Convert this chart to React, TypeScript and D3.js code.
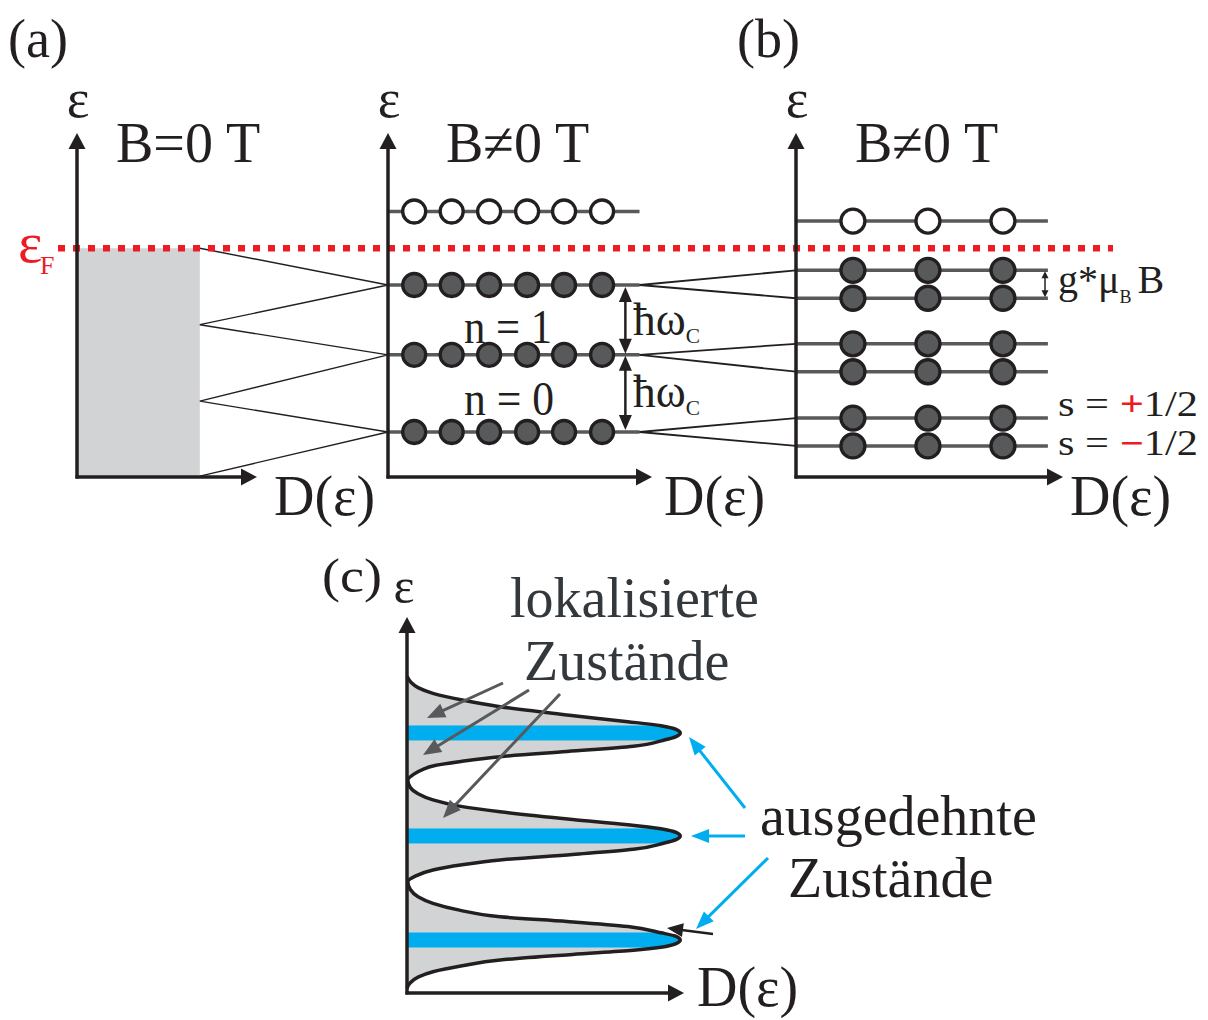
import React from 'react';
import * as d3 from 'd3';

const FONT = '"Liberation Serif", "Times New Roman", Times, serif';
const BLACK = '#231f20';
const DARK = '#58595b';
const RED = '#ed1c24';
const BLUE = '#00aeef';
const GRAY_FILL = '#d1d3d4';

// ---------- Panels (a) and (b): energies in units of ħω_C ----------
const landauLevels = [0, 1.05, 2.0];          // filled Landau levels n = 0, 1, 2
const emptyLevelA = 3.0;                       // empty Landau level (a)
const fermiEnergy = 2.5;
const fanBreaks = [2.5, 1.46, 0.42, -0.6];     // B = 0 band points joined to Landau levels
const filledBandWidth = 0.69;                  // D(ε) of the B = 0 band
const circlesA = [0.1, 0.243, 0.386, 0.531, 0.672, 0.817];
const levelEndA = 0.96;
const spinUp = [2.2, 1.2, 0.19];
const spinDown = [1.82, 0.82, -0.19];
const emptyLevelB = 2.87;
const circlesB = [0.214, 0.496, 0.778];
const levelEndB = 0.947;
const hbarArrowD = 0.906;

// ---------- Panel (c): broadened density of states ----------
const dosEnergy = [
  -0.47, -0.42, -0.36, -0.308, -0.25, -0.194, -0.14, -0.1, -0.07, -0.035, 0,
  0.035, 0.07, 0.13, 0.18, 0.226, 0.29, 0.356, 0.42, 0.49,
  0.566, 0.62, 0.68, 0.73, 0.777, 0.83, 0.88, 0.94, 0.975, 1.01,
  1.045, 1.08, 1.12, 1.17, 1.245, 1.3, 1.36, 1.42, 1.48,
  1.553, 1.61, 1.66, 1.69, 1.735, 1.78, 1.83, 1.88, 1.94, 1.975, 2.01,
  2.045, 2.08, 2.12, 2.184, 2.265, 2.33, 2.395, 2.45, 2.5, 2.56,
];
const dosValue = [
  0.0, 0.01, 0.04, 0.094, 0.2, 0.337, 0.6, 0.82, 0.92, 0.975, 0.99,
  0.975, 0.92, 0.8, 0.58, 0.337, 0.19, 0.094, 0.04, 0.012,
  0.003, 0.03, 0.094, 0.2, 0.337, 0.6, 0.82, 0.93, 0.975, 0.99,
  0.975, 0.92, 0.8, 0.6, 0.337, 0.19, 0.094, 0.04, 0.012,
  0.003, 0.025, 0.06, 0.094, 0.2, 0.337, 0.58, 0.82, 0.93, 0.975, 0.99,
  0.975, 0.92, 0.8, 0.58, 0.337, 0.2, 0.094, 0.04, 0.015, 0.0,
];
const peakEnergies = [0, 1.01, 2.01];

// ---------- scales ----------
const yE = d3.scaleLinear().domain([0, 3]).range([432, 211.5]);
const xA1 = d3.scaleLinear().domain([0, 1]).range([77, 255]);
const xA2 = d3.scaleLinear().domain([0, 1]).range([388, 650]);
const xB = d3.scaleLinear().domain([0, 1]).range([796, 1062]);
const yC = d3.scaleLinear().domain([0, 1]).range([940, 837]);
const xC = d3.scaleLinear().domain([0, 1]).range([407, 683]);

const AX_TOP = 133;
const AX_BOT = 477;

function Arrow({ x1, y1, x2, y2, color = BLACK, w = 3, hl = 16, hw = 16, both = false }: any) {
  const ang = Math.atan2(y2 - y1, x2 - x1);
  const head = (tx: number, ty: number, a: number) => {
    const bx = tx - hl * Math.cos(a);
    const by = ty - hl * Math.sin(a);
    const px = (hw / 2) * Math.sin(a);
    const py = (-hw / 2) * Math.cos(a);
    return `M${tx},${ty}L${bx + px},${by + py}L${bx - px},${by - py}Z`;
  };
  const sx = both ? x1 + hl * 0.8 * Math.cos(ang) : x1;
  const sy = both ? y1 + hl * 0.8 * Math.sin(ang) : y1;
  const ex = x2 - hl * 0.8 * Math.cos(ang);
  const ey = y2 - hl * 0.8 * Math.sin(ang);
  return (
    <g>
      <line x1={sx} y1={sy} x2={ex} y2={ey} stroke={color} strokeWidth={w} />
      <path d={head(x2, y2, ang)} fill={color} />
      {both && <path d={head(x1, y1, ang + Math.PI)} fill={color} />}
    </g>
  );
}

function Axes({ x0, x1, top, bot }: any) {
  return (
    <g>
      <Arrow x1={x0} y1={bot + 1.5} x2={x0} y2={top} w={3.5} hl={16} hw={17} />
      <Arrow x1={x0 - 1.5} y1={bot} x2={x1} y2={bot} w={3.5} hl={16} hw={17} />
    </g>
  );
}

export default function App() {
  const fanPts: [number, number][] = [
    [xA1(filledBandWidth), yE(fanBreaks[0])],
    [xA2(0), yE(landauLevels[2])],
    [xA1(filledBandWidth), yE(fanBreaks[1])],
    [xA2(0), yE(landauLevels[1])],
    [xA1(filledBandWidth), yE(fanBreaks[2])],
    [xA2(0), yE(landauLevels[0])],
    [xA1(filledBandWidth), yE(fanBreaks[3])],
  ];
  const fanPath = d3.line()(fanPts) as string;

  const dos = dosEnergy.map((e, i) => [e, dosValue[i]] as [number, number]);
  const dosLine = d3
    .line<[number, number]>()
    .x((d) => xC(d[1]))
    .y((d) => yC(d[0]))
    .curve(d3.curveMonotoneY)(dos) as string;
  const dosArea = d3
    .area<[number, number]>()
    .y((d) => yC(d[0]))
    .x0(xC(0))
    .x1((d) => xC(d[1]))
    .curve(d3.curveMonotoneY)(dos) as string;

  const txt = { fontFamily: FONT, fill: BLACK } as any;

  return (
    <svg width={1208} height={1020} style={{ position: 'absolute', left: 0, top: 0, background: '#fff' }}>
      <rect x={0} y={0} width={1208} height={1020} fill="#fff" />
      {/* ---------------- panel (a) left ---------------- */}
      <rect
        x={xA1(0)}
        y={yE(fermiEnergy)}
        width={xA1(filledBandWidth) - xA1(0)}
        height={AX_BOT - yE(fermiEnergy)}
        fill={GRAY_FILL}
      />
      <path d={fanPath} fill="none" stroke={BLACK} strokeWidth={1.4} />

      {/* Landau levels (a) */}
      <line x1={xA2(0)} x2={xA2(levelEndA)} y1={yE(emptyLevelA)} y2={yE(emptyLevelA)} stroke={DARK} strokeWidth={3.5} />
      {landauLevels.map((l, i) => (
        <line key={'ll' + i} x1={xA2(0)} x2={xA2(levelEndA)} y1={yE(l)} y2={yE(l)} stroke={DARK} strokeWidth={3.5} />
      ))}
      {/* connection lines (a) -> (b) */}
      {landauLevels.map((l, i) => (
        <g key={'cn' + i}>
          <line x1={xA2(levelEndA)} y1={yE(l)} x2={xB(0)} y2={yE(spinUp[2 - i])} stroke={BLACK} strokeWidth={1.8} />
          <line x1={xA2(levelEndA)} y1={yE(l)} x2={xB(0)} y2={yE(spinDown[2 - i])} stroke={BLACK} strokeWidth={1.8} />
        </g>
      ))}

      {/* panel (b) levels */}
      <line x1={xB(0)} x2={xB(levelEndB)} y1={yE(emptyLevelB)} y2={yE(emptyLevelB)} stroke={DARK} strokeWidth={3.5} />
      {spinUp.concat(spinDown).map((l, i) => (
        <line key={'bl' + i} x1={xB(0)} x2={xB(levelEndB)} y1={yE(l)} y2={yE(l)} stroke={DARK} strokeWidth={3.5} />
      ))}

      {/* Fermi level */}
      <line x1={58} x2={1113} y1={yE(fermiEnergy)} y2={yE(fermiEnergy)} stroke={RED} strokeWidth={6.5} strokeDasharray="7 8" />

      {/* circles (a) */}
      {circlesA.map((c, j) => (
        <circle key={'oa' + j} cx={xA2(c)} cy={yE(emptyLevelA)} r={11.5} fill="#fff" stroke={BLACK} strokeWidth={3.3} />
      ))}
      {landauLevels.map((l, i) =>
        circlesA.map((c, j) => (
          <circle key={'fa' + i + '_' + j} cx={xA2(c)} cy={yE(l)} r={11.5} fill={DARK} stroke={BLACK} strokeWidth={3.3} />
        ))
      )}
      {/* circles (b) */}
      {circlesB.map((c, j) => (
        <circle key={'ob' + j} cx={xB(c)} cy={yE(emptyLevelB)} r={12} fill="#fff" stroke={BLACK} strokeWidth={3.3} />
      ))}
      {spinUp.concat(spinDown).map((l, i) =>
        circlesB.map((c, j) => (
          <circle key={'fb' + i + '_' + j} cx={xB(c)} cy={yE(l)} r={12} fill={DARK} stroke={BLACK} strokeWidth={3.3} />
        ))
      )}

      {/* axes */}
      <Axes x0={xA1(0)} x1={257} top={AX_TOP} bot={AX_BOT} />
      <Axes x0={xA2(0)} x1={652} top={AX_TOP} bot={AX_BOT} />
      <Axes x0={xB(0)} x1={1063} top={AX_TOP} bot={AX_BOT} />

      {/* ħω_C arrows */}
      <Arrow x1={xA2(hbarArrowD)} y1={yE(landauLevels[2]) + 2} x2={xA2(hbarArrowD)} y2={yE(landauLevels[1]) - 1} w={2.5} hl={15} hw={13} both />
      <Arrow x1={xA2(hbarArrowD)} y1={yE(landauLevels[1]) + 1} x2={xA2(hbarArrowD)} y2={yE(landauLevels[0]) - 2} w={2.5} hl={15} hw={13} both />
      {/* g*μB arrow */}
      <Arrow x1={1045} y1={yE(spinUp[0]) + 1} x2={1045} y2={yE(spinDown[0]) - 1} w={1.5} hl={7} hw={7} both />

      {/* text panel (a)/(b) */}
      <text x={8} y={57} fontSize={54} textLength={60} lengthAdjust="spacingAndGlyphs" {...txt}>(a)</text>
      <text x={737} y={57} fontSize={54} textLength={63} lengthAdjust="spacingAndGlyphs" {...txt}>(b)</text>
      {[xA1(0), xA2(0), xB(0)].map((x, i) => (
        <text key={'eps' + i} x={x + 1} y={117} fontSize={54} textAnchor="middle" {...txt}>ε</text>
      ))}
      <text x={116} y={162} fontSize={56} {...txt}>B=0 T</text>
      <text x={446} y={162} fontSize={56} {...txt}>B≠0 T</text>
      <text x={855} y={162} fontSize={56} {...txt}>B≠0 T</text>
      <text x={274} y={515} fontSize={56} {...txt}>D(ε)</text>
      <text x={664} y={515} fontSize={56} {...txt}>D(ε)</text>
      <text x={1070} y={515} fontSize={56} {...txt}>D(ε)</text>

      <text x={18} y={262} fontSize={58} fontFamily={FONT} fill={RED}>ε</text>
      <text x={40} y={274} fontSize={26} fontFamily={FONT} fill={RED}>F</text>

      <text x={464} y={343} fontSize={48} textLength={88} lengthAdjust="spacingAndGlyphs" {...txt}>n = 1</text>
      <text x={464} y={415} fontSize={48} textLength={90} lengthAdjust="spacingAndGlyphs" {...txt}>n = 0</text>

      <text x={633} y={335} fontSize={47} textLength={67} lengthAdjust="spacingAndGlyphs" {...txt}>
        ħω<tspan fontSize={22} dy={8}>C</tspan>
      </text>
      <text x={633} y={407} fontSize={47} textLength={67} lengthAdjust="spacingAndGlyphs" {...txt}>
        ħω<tspan fontSize={22} dy={8}>C</tspan>
      </text>

      <text x={1058} y={293} fontSize={40} {...txt}>
        g*μ<tspan fontSize={18} dy={10}>B</tspan><tspan fontSize={40} dy={-10} dx={6}>B</tspan>
      </text>

      <text x={1058} y={416} fontSize={36} textLength={140} lengthAdjust="spacingAndGlyphs" {...txt}>
        s = <tspan fill={RED} fontWeight="bold">+</tspan>1/2
      </text>
      <text x={1058} y={455} fontSize={36} textLength={140} lengthAdjust="spacingAndGlyphs" {...txt}>
        s = <tspan fill={RED} fontWeight="bold">−</tspan>1/2
      </text>

      {/* ---------------- panel (c) ---------------- */}
      <defs>
        <clipPath id="dosClip">
          <path d={dosArea} />
        </clipPath>
      </defs>
      <path d={dosArea} fill={GRAY_FILL} />
      <g clipPath="url(#dosClip)">
        {peakEnergies.map((p, i) => (
          <rect key={'bar' + i} x={xC(0)} y={yC(p) - 7.5} width={xC(1) - xC(0)} height={15} fill={BLUE} />
        ))}
      </g>
      <path d={dosLine} fill="none" stroke={BLACK} strokeWidth={3.5} />
      <Axes x0={xC(0)} x1={684} top={617} bot={993} />

      {/* localized state arrows */}
      <Arrow x1={503} y1={683} x2={427} y2={718} color={DARK} w={3} hl={18} hw={15} />
      <Arrow x1={529} y1={690} x2={423} y2={755} color={DARK} w={3} hl={18} hw={15} />
      <Arrow x1={560} y1={694} x2={443} y2={818} color={DARK} w={3} hl={18} hw={15} />
      {/* extended state arrows */}
      <Arrow x1={745} y1={808} x2={689} y2={737} color={BLUE} w={3} hl={18} hw={14} />
      <Arrow x1={745} y1={836} x2={691} y2={836} color={BLUE} w={3} hl={18} hw={14} />
      <Arrow x1={768} y1={858} x2={696} y2={929} color={BLUE} w={3} hl={18} hw={14} />
      <Arrow x1={713} y1={934} x2={667} y2={928} color={BLACK} w={2.5} hl={16} hw={14} />

      <text x={322} y={592} fontSize={48} textLength={60} lengthAdjust="spacingAndGlyphs" {...txt}>(c)</text>
      <text x={404} y={603} fontSize={50} textAnchor="middle" {...txt}>ε</text>
      <text x={697} y={1006} fontSize={56} {...txt}>D(ε)</text>

      <text x={510} y={617} fontSize={56} fontFamily={FONT} fill="#33383d">lokalisierte</text>
      <text x={524} y={680} fontSize={56} fontFamily={FONT} fill="#33383d">Zustände</text>
      <text x={760} y={835} fontSize={56} {...txt}>ausgedehnte</text>
      <text x={788} y={897} fontSize={56} {...txt}>Zustände</text>
    </svg>
  );
}
